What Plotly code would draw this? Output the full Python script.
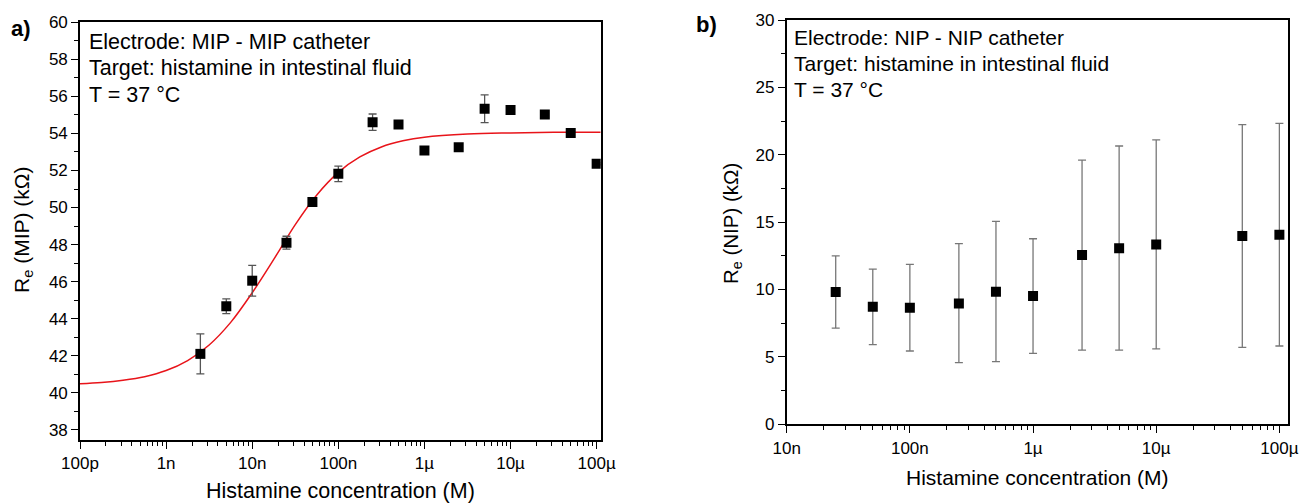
import plotly.graph_objects as go

# panel a) MIP electrode
mip_conc = [2.5e-9, 5e-9, 1e-8, 2.5e-8, 5e-8, 1e-7, 2.5e-7, 5e-7, 1e-6, 2.5e-6, 5e-6, 1e-5, 2.5e-5, 5e-5, 1e-4]
mip_re = [42.1, 44.67, 46.05, 48.1, 50.3, 51.82, 54.61, 54.48, 53.08, 53.26, 55.33, 55.27, 55.02, 54.02, 52.36]
mip_err = [1.08, 0.4, 0.83, 0.35, 0.15, 0.42, 0.44, 0.1, 0.05, 0.05, 0.75, 0.05, 0.05, 0.2, 0.05]

# fitted curve (log10 of concentration)
fit_logc = [-10.0, -9.75, -9.5, -9.25, -9.0, -8.75, -8.5, -8.25, -8.0, -7.75, -7.5, -7.25,
            -7.0, -6.75, -6.5, -6.25, -6.0, -5.5, -5.0, -4.5, -3.953]
fit_re = [40.49, 40.56, 40.68, 40.87, 41.2, 41.74, 42.58, 43.8, 45.4, 47.2, 49.08, 50.68,
          51.9, 52.73, 53.27, 53.6, 53.8, 53.97, 54.03, 54.06, 54.07]

# panel b) NIP electrode
nip_conc = [2.5e-8, 5e-8, 1e-7, 2.5e-7, 5e-7, 1e-6, 2.5e-6, 5e-6, 1e-5, 5e-5, 1e-4]
nip_re = [9.81, 8.72, 8.65, 8.97, 9.84, 9.52, 12.56, 13.06, 13.35, 13.97, 14.07]
nip_hi = [12.5, 11.52, 11.87, 13.4, 15.06, 13.77, 19.6, 20.65, 21.11, 22.23, 22.33]
nip_lo = [7.14, 5.91, 5.44, 4.57, 4.65, 5.27, 5.51, 5.51, 5.59, 5.71, 5.81]

mip_ticks = [1e-10, 1e-9, 1e-8, 1e-7, 1e-6, 1e-5, 1e-4]
mip_ticklabels = ["100p", "1n", "10n", "100n", "1µ", "10µ", "100µ"]
nip_ticks = [1e-8, 1e-7, 1e-6, 1e-5, 1e-4]
nip_ticklabels = ["10n", "100n", "1µ", "10µ", "100µ"]

mip_info = ["Electrode: MIP - MIP catheter", "Target: histamine in intestinal fluid", "T = 37 °C"]
nip_info = ["Electrode: NIP - NIP catheter", "Target: histamine in intestinal fluid", "T = 37 °C"]

FONT = "Liberation Sans, Arial, sans-serif"
W, H = 1299, 503


def minor_vals(first_exp, last_exp):
    return [m * 10.0 ** e for e in range(first_exp, last_exp) for m in range(2, 10)]


def px_x(p):
    return p / W


def px_y(p):
    return 1 - p / H


fig = go.Figure()

fig.add_trace(go.Scatter(
    x=[10 ** v for v in fit_logc], y=fit_re, mode="lines",
    line=dict(color="#e8141a", width=1.5, shape="spline"),
    xaxis="x", yaxis="y", showlegend=False,
))
fig.add_trace(go.Scatter(
    x=mip_conc, y=mip_re, mode="markers",
    marker=dict(symbol="square", size=10, color="black"),
    error_y=dict(type="data", array=mip_err, color="#555555", thickness=1.3, width=4),
    xaxis="x", yaxis="y", showlegend=False,
))
fig.add_trace(go.Scatter(
    x=nip_conc, y=nip_re, mode="markers",
    marker=dict(symbol="square", size=10, color="black"),
    error_y=dict(
        type="data", symmetric=False,
        array=[h - r for h, r in zip(nip_hi, nip_re)],
        arrayminus=[r - l for r, l in zip(nip_re, nip_lo)],
        color="#777777", thickness=1.3, width=4,
    ),
    xaxis="x2", yaxis="y2", showlegend=False,
))

axis_common = dict(
    showline=True, linecolor="black", linewidth=1.6, mirror=True,
    ticks="outside", ticklen=7, tickwidth=1.4, tickcolor="black",
    showgrid=False, zeroline=False, automargin=False,
    tickfont=dict(family=FONT, size=17, color="black"),
)
minor_common = dict(ticks="outside", ticklen=4, tickwidth=1.2, tickcolor="black")

fig.update_layout(
    width=W, height=H,
    margin=dict(l=0, r=0, t=0, b=0),
    paper_bgcolor="white", plot_bgcolor="white",
    font=dict(family=FONT, color="black"),
    xaxis=dict(
        type="log", domain=[px_x(80), px_x(600.7)], range=[-10, -3.953],
        anchor="y", tickmode="array", tickvals=mip_ticks, ticktext=mip_ticklabels,
        minor=dict(tickvals=minor_vals(-10, -4), **minor_common),
        **axis_common,
    ),
    yaxis=dict(
        domain=[px_y(440), px_y(22.3)], range=[37.45, 60], anchor="x",
        tickmode="linear", tick0=38, dtick=2,
        minor=dict(dtick=1, **minor_common),
        **axis_common,
    ),
    xaxis2=dict(
        type="log", domain=[px_x(786.7), px_x(1288)], range=[-8, -3.93],
        anchor="y2", tickmode="array", tickvals=nip_ticks, ticktext=nip_ticklabels,
        minor=dict(tickvals=minor_vals(-8, -4), **minor_common),
        **axis_common,
    ),
    yaxis2=dict(
        domain=[px_y(424.3), px_y(20)], range=[0, 30], anchor="x2",
        tickmode="linear", tick0=0, dtick=5,
        minor=dict(dtick=2.5, **minor_common),
        **axis_common,
    ),
)

annotations = [
    # panel labels
    dict(text="<b>a)</b>", x=21, y=28, size=22),
    dict(text="<b>b)</b>", x=706, y=25, size=22),
    # axis titles
    dict(text="Histamine concentration (M)", x=340, y=491, size=21.5),
    dict(text="Histamine concentration (M)", x=1037, y=477, size=21),
    dict(text="R<sub>e</sub> (MIP) (kΩ)", x=23, y=230, size=21, angle=-90),
    dict(text="R<sub>e</sub> (NIP) (kΩ)", x=732, y=224, size=20.5, angle=-90),
]
for a in annotations:
    fig.add_annotation(
        text=a["text"], x=px_x(a["x"]), y=px_y(a["y"]), xref="paper", yref="paper",
        xanchor="center", yanchor="middle", showarrow=False,
        textangle=a.get("angle", 0),
        font=dict(family=FONT, size=a["size"], color="black"),
    )

# text boxes inside the panels, one annotation per line
for lines, x0, ys, size in [
    (mip_info, 87, [41.7, 68.3, 95], 21.5),
    (nip_info, 792, [38, 63.5, 89.5], 21),
]:
    for line, yc in zip(lines, ys):
        fig.add_annotation(
            text=line, x=px_x(x0), y=px_y(yc), xref="paper", yref="paper",
            xanchor="left", yanchor="middle", showarrow=False,
            font=dict(family=FONT, size=size, color="black"),
        )

# the page's default body margin would push the figure 8px off
fig.write_html(
    "out.html",
    config={"displayModeBar": False},
    post_script="document.body.style.margin = '0';",
)
